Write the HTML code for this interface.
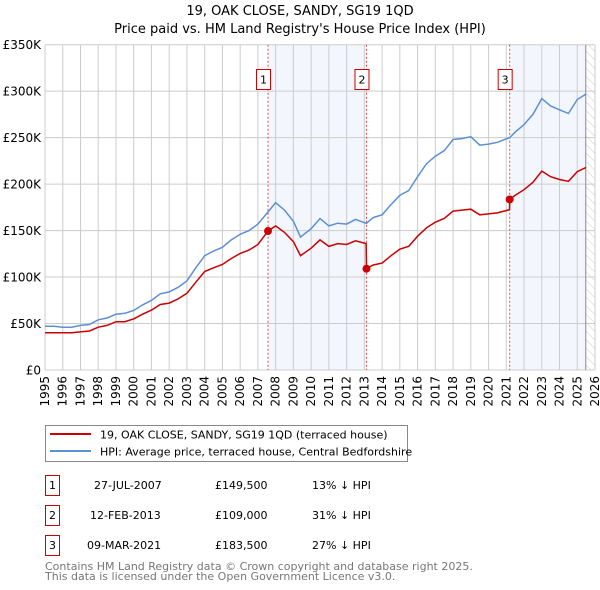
<!DOCTYPE html>
<html><head><meta charset="utf-8">
<style>
body{margin:0;background:#fff;font-family:"Liberation Sans","DejaVu Sans",sans-serif;}
svg{display:block}
text{font-family:"DejaVu Sans","Liberation Sans",sans-serif;}
</style></head>
<body>
<svg id="chart" width="600" height="590" xmlns="http://www.w3.org/2000/svg">
<defs>
<pattern id="hatch" width="6" height="6" patternUnits="userSpaceOnUse" patternTransform="rotate(-45)">
<line x1="0" y1="0" x2="0" y2="6" stroke="#ccc" stroke-width="1"/>
</pattern>
</defs>
<text x="300" y="15" text-anchor="middle" font-size="13">19, OAK CLOSE, SANDY, SG19 1QD</text>
<text x="300" y="33" text-anchor="middle" font-size="13">Price paid vs. HM Land Registry's House Price Index (HPI)</text>
<g id="plot"></g>
<g>
<rect x="45.5" y="425.5" width="362" height="36" fill="#fff" stroke="#888"/>
<line x1="50" y1="434" x2="91" y2="434" stroke="#cc0000" stroke-width="2"/>
<text x="100" y="438.5" font-size="11">19, OAK CLOSE, SANDY, SG19 1QD (terraced house)</text>
<line x1="50" y1="451" x2="91" y2="451" stroke="#5b8fd6" stroke-width="2"/>
<text x="100" y="455.5" font-size="11">HPI: Average price, terraced house, Central Bedfordshire</text>
</g>
<g font-size="11">
<rect x="45.5" y="475.5" width="14" height="20" fill="#fff" stroke="#cc0000"/>
<text x="52.5" y="489" text-anchor="middle">1</text>
<text x="94" y="489">27-JUL-2007</text>
<text x="215" y="489">£149,500</text>
<text x="312" y="489">13% ↓ HPI</text>
<rect x="45.5" y="505.5" width="14" height="20" fill="#fff" stroke="#cc0000"/>
<text x="52.5" y="519" text-anchor="middle">2</text>
<text x="90" y="519">12-FEB-2013</text>
<text x="215" y="519">£109,000</text>
<text x="312" y="519">31% ↓ HPI</text>
<rect x="45.5" y="535.5" width="14" height="20" fill="#fff" stroke="#cc0000"/>
<text x="52.5" y="549" text-anchor="middle">3</text>
<text x="87" y="549">09-MAR-2021</text>
<text x="215" y="549">£183,500</text>
<text x="312" y="549">27% ↓ HPI</text>
</g>
<text x="45" y="570" font-size="11" fill="#777">Contains HM Land Registry data © Crown copyright and database right 2025.</text>
<text x="45" y="580" font-size="11" fill="#777">This data is licensed under the Open Government Licence v3.0.</text>
</svg>
<script>
const years=[1995,1995.5,1996,1996.5,1997,1997.5,1998,1998.5,1999,1999.5,2000,2000.5,2001,2001.5,2002,2002.5,2003,2003.5,2004,2004.5,2005,2005.5,2006,2006.5,2007,2007.57,2008,2008.5,2009,2009.4,2010,2010.5,2011,2011.5,2012,2012.5,2013.1,2013.12,2013.5,2014,2014.5,2015,2015.5,2016,2016.5,2017,2017.5,2018,2018.5,2019,2019.5,2020,2020.5,2021.18,2021.19,2021.5,2022,2022.5,2023,2023.5,2024,2024.5,2025,2025.5];
const hpiValues=[47,47,46,46,48,49,54,56,60,61,64,70,75,82,84,89,96,110,123,128,132,140,146,150,157,170,180,172,160,143,152,163,155,158,157,162,158,158,164,167,178,188,193,208,222,230,236,248,249,251,242,243,245,250,250,256,264,275,292,284,280,276,291,297];
const propertyValues=[40,40,40,40,41,42,46,48,52,52,55,60,64.5,70.5,72,76.5,82.5,94.5,106,110,113.5,120,125.5,129,135,149.5,155,148,138,123,131,140,133,136,135,139,136,109,113,115,123,130,133,144,153,159,163,171,172,173,167,168,169,172.5,183.5,188,194,202,214,208,205,203,213.5,218];
const saleYears=[2007.57,2013.12,2021.19];
const salePrices=[149.5,109,183.5];
const saleLabels=["1","2","3"];
const yTicks=[0,50,100,150,200,250,300,350];
const yTickLabels=["£0","£50K","£100K","£150K","£200K","£250K","£300K","£350K"];
const xStart=1995,xEnd=2026,yMax=350,dataEnd=2025.48;

const NS="http://www.w3.org/2000/svg";
const L=45,R=595,T=44.7,B=370;
const X=v=>L+(v-xStart)/(xEnd-xStart)*(R-L);
const Y=v=>B-v/yMax*(B-T);
const plot=document.getElementById('plot');
function mk(tag,attrs,parent){const e=document.createElementNS(NS,tag);for(const k in attrs)e.setAttribute(k,attrs[k]);(parent||plot).appendChild(e);return e;}

// shading
let s=mk('rect',{x:X(saleYears[0]),y:T,width:X(saleYears[1])-X(saleYears[0]),height:B-T,fill:'#eef3fc',opacity:0.7});


s=mk('rect',{x:X(saleYears[2]),y:T,width:X(dataEnd)-X(saleYears[2]),height:B-T,fill:'#eef3fc',opacity:0.7});


s=mk('rect',{x:X(dataEnd),y:T,width:R-X(dataEnd),height:B-T,fill:'url(#hatch)'});



// grid
for(let yr=xStart;yr<=xEnd;yr++){
  const g=mk('line',{x1:X(yr),x2:X(yr),y1:T,y2:B,stroke:'#ccc','stroke-width':1});
  
  
  const t=mk('text',{x:0,y:0,'font-size':12,'text-anchor':'end',transform:`translate(${X(yr)+4},${B+6}) rotate(-90)`});
  t.textContent=yr;
  
  
}
yTicks.forEach((v,i)=>{
  const g=mk('line',{x1:L,x2:R,y1:Y(v),y2:Y(v),stroke:'#ccc','stroke-width':1});
  
  
  const t=mk('text',{x:L-4,y:Y(v)+4.5,'font-size':12,'text-anchor':'end'});
  t.textContent=yTickLabels[i];
  
  
});
let d=mk('line',{x1:X(dataEnd),x2:X(dataEnd),y1:T,y2:B,stroke:'#888','stroke-width':1});



// sale vlines
saleYears.forEach((yr,i)=>{
  const l=mk('line',{x1:X(yr),x2:X(yr),y1:T,y2:B,stroke:'#e05050','stroke-width':1,'stroke-dasharray':'2,2'});
  
  
});

const pts=arr=>arr.map((v,i)=>X(years[i]).toFixed(1)+','+Y(v).toFixed(1)).join(' ');
let hp=mk('polyline',{points:pts(hpiValues),fill:'none',stroke:'#5b8fd6','stroke-width':1.5});


let pp=mk('polyline',{points:pts(propertyValues),fill:'none',stroke:'#cc0000','stroke-width':1.5});



saleYears.forEach((yr,i)=>{
  const c=mk('circle',{cx:X(yr),cy:Y(salePrices[i]),r:4,fill:'#cc0000'});
  
  
  const b=mk('rect',{x:X(yr)-11.5,y:69.5,width:14,height:20,fill:'#fff',stroke:'#cc0000'});
  
  
  const t=mk('text',{x:X(yr)-4.5,y:83.5,'font-size':11,'text-anchor':'middle'});
  t.textContent=saleLabels[i];
  
  
});
</script>
</body></html>
